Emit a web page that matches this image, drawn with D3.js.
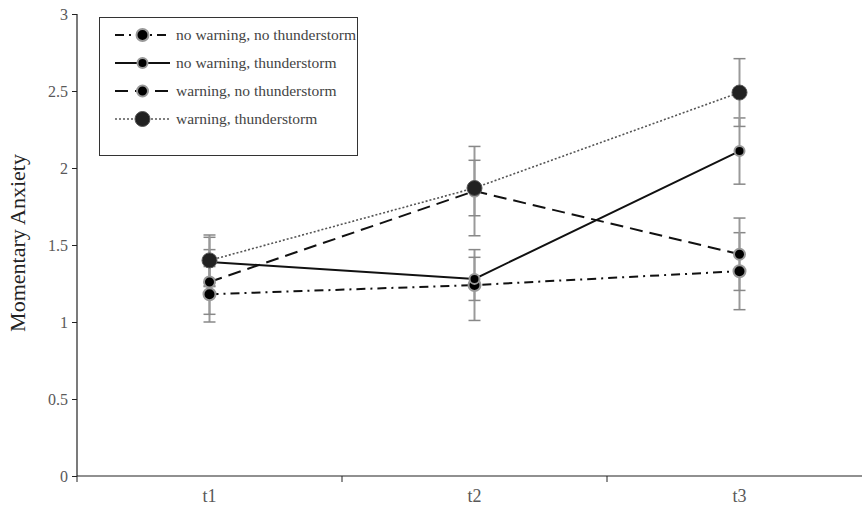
<!DOCTYPE html>
<html>
<head>
<meta charset="utf-8">
<script src="https://cdn.jsdelivr.net/npm/d3@7"></script>
<style>
  html, body { margin: 0; padding: 0; background: #fff; }
  svg { display: block; }
</style>
</head>
<body>
<svg id="chart" width="862" height="512"></svg>
<script>
const categories = ["t1", "t2", "t3"];
const yTicks = [0, 0.5, 1, 1.5, 2, 2.5, 3];
const seriesNames = ["no warning, no thunderstorm", "no warning, thunderstorm", "warning, no thunderstorm", "warning, thunderstorm"];
const nwntValues = [1.18, 1.24, 1.33];
const nwntErrors = [0.18, 0.23, 0.25];
const nwtValues = [1.39, 1.28, 2.11];
const nwtErrors = [0.16, 0.14, 0.215];
const wntValues = [1.26, 1.85, 1.44];
const wntErrors = [0.21, 0.29, 0.235];
const wtValues = [1.40, 1.87, 2.49];
const wtErrors = [0.165, 0.18, 0.22];

const styles = [
  { dash: "9,5,2,5", width: 2, color: "#111", r: 6, fill: "#000", stroke: "#999", sw: 2 },
  { dash: null, width: 2, color: "#111", r: 5, fill: "#000", stroke: "#999", sw: 2 },
  { dash: "13,7", width: 2, color: "#111", r: 5.5, fill: "#000", stroke: "#999", sw: 2 },
  { dash: "2,2", width: 1.6, color: "#555", r: 7.5, fill: "#222", stroke: "#555", sw: 1 }
];
const series = [
  { name: seriesNames[0], values: nwntValues, errors: nwntErrors },
  { name: seriesNames[1], values: nwtValues, errors: nwtErrors },
  { name: seriesNames[2], values: wntValues, errors: wntErrors },
  { name: seriesNames[3], values: wtValues, errors: wtErrors }
];

const svg = d3.select("#chart");
const x = d3.scaleBand().domain(categories).range([77, 872]).paddingInner(0).paddingOuter(0);
const y = d3.scaleLinear().domain([0, 3]).range([476, 14]);
const cx = c => x(c) + x.bandwidth() / 2;
const font = "'Liberation Serif', 'Times New Roman', serif";

// y axis
const yAxis = svg.append("g").attr("transform", "translate(77,0)")
  .call(d3.axisLeft(y).tickValues(yTicks).tickSize(5).tickPadding(4).tickFormat(d => String(d)));
yAxis.select(".domain").attr("stroke", "#222").attr("stroke-width", 1.2).attr("d", `M0,${y(3)}V${y(0)}`);
yAxis.selectAll(".tick line").attr("stroke", "#222");
yAxis.selectAll(".tick text").attr("font-family", font).attr("font-size", 16).attr("fill", "#595959");

// x axis
const xAxis = svg.append("g").attr("transform", `translate(0,${y(0)})`)
  .call(d3.axisBottom(x).tickSize(0).tickPadding(13));
xAxis.select(".domain").attr("stroke", "#222").attr("stroke-width", 1.2).attr("d", `M77,0H862`);
xAxis.selectAll(".tick text").attr("font-family", font).attr("font-size", 18).attr("fill", "#595959");
xAxis.selectAll("line.sep").data(categories).enter().append("line")
  .attr("class", "sep")
  .attr("x1", d => x(d)).attr("x2", d => x(d))
  .attr("y1", 0).attr("y2", 6)
  .attr("stroke", "#222").attr("stroke-width", 1);

// axis title
svg.append("text")
  .attr("transform", `translate(25,${(y(0) + y(3)) / 2 - 2}) rotate(-90)`)
  .attr("text-anchor", "middle")
  .attr("font-family", font).attr("font-size", 22).attr("fill", "#222")
  .text("Momentary Anxiety");

// lines
const line = d3.line().x((d, i) => cx(categories[i])).y(d => y(d));
series.forEach((s, k) => {
  const st = styles[k];
  svg.append("path").datum(s.values)
    .attr("d", line).attr("fill", "none")
    .attr("stroke", st.color).attr("stroke-width", st.width)
    .attr("stroke-dasharray", st.dash);
});

// error bars
series.forEach((s, k) => {
  const g = svg.append("g");
  s.values.forEach((v, i) => {
    const xx = cx(categories[i]);
    const lo = y(v - s.errors[i]), hi = y(v + s.errors[i]);
    g.append("line").attr("x1", xx).attr("x2", xx).attr("y1", lo).attr("y2", hi)
      .attr("stroke", "#9a9a9a").attr("stroke-width", 2);
    [lo, hi].forEach(yy => g.append("line").attr("x1", xx - 6).attr("x2", xx + 6)
      .attr("y1", yy).attr("y2", yy).attr("stroke", "#888").attr("stroke-width", 1.5));
  });
});

// markers
series.forEach((s, k) => {
  const st = styles[k];
  svg.append("g").selectAll("circle").data(s.values).enter().append("circle")
    .attr("cx", (d, i) => cx(categories[i])).attr("cy", d => y(d))
    .attr("r", st.r).attr("fill", st.fill)
    .attr("stroke", st.stroke).attr("stroke-width", st.sw);
});

// legend
const lg = svg.append("g");
lg.append("rect").attr("x", 99.5).attr("y", 17.5).attr("width", 258).attr("height", 138)
  .attr("fill", "#fff").attr("stroke", "#333").attr("stroke-width", 1);
series.forEach((s, k) => {
  const st = styles[k];
  const yy = 35 + k * 28;
  lg.append("line").attr("x1", 115).attr("x2", 170).attr("y1", yy).attr("y2", yy)
    .attr("stroke", st.color).attr("stroke-width", st.width).attr("stroke-dasharray", st.dash);
  lg.append("circle").attr("cx", 142.5).attr("cy", yy).attr("r", st.r)
    .attr("fill", st.fill).attr("stroke", st.stroke).attr("stroke-width", st.sw);
  lg.append("text").attr("x", 176).attr("y", yy + 5)
    .attr("font-family", font).attr("font-size", 15.5).attr("fill", "#444")
    .text(s.name);
});
</script>
</body>
</html>
